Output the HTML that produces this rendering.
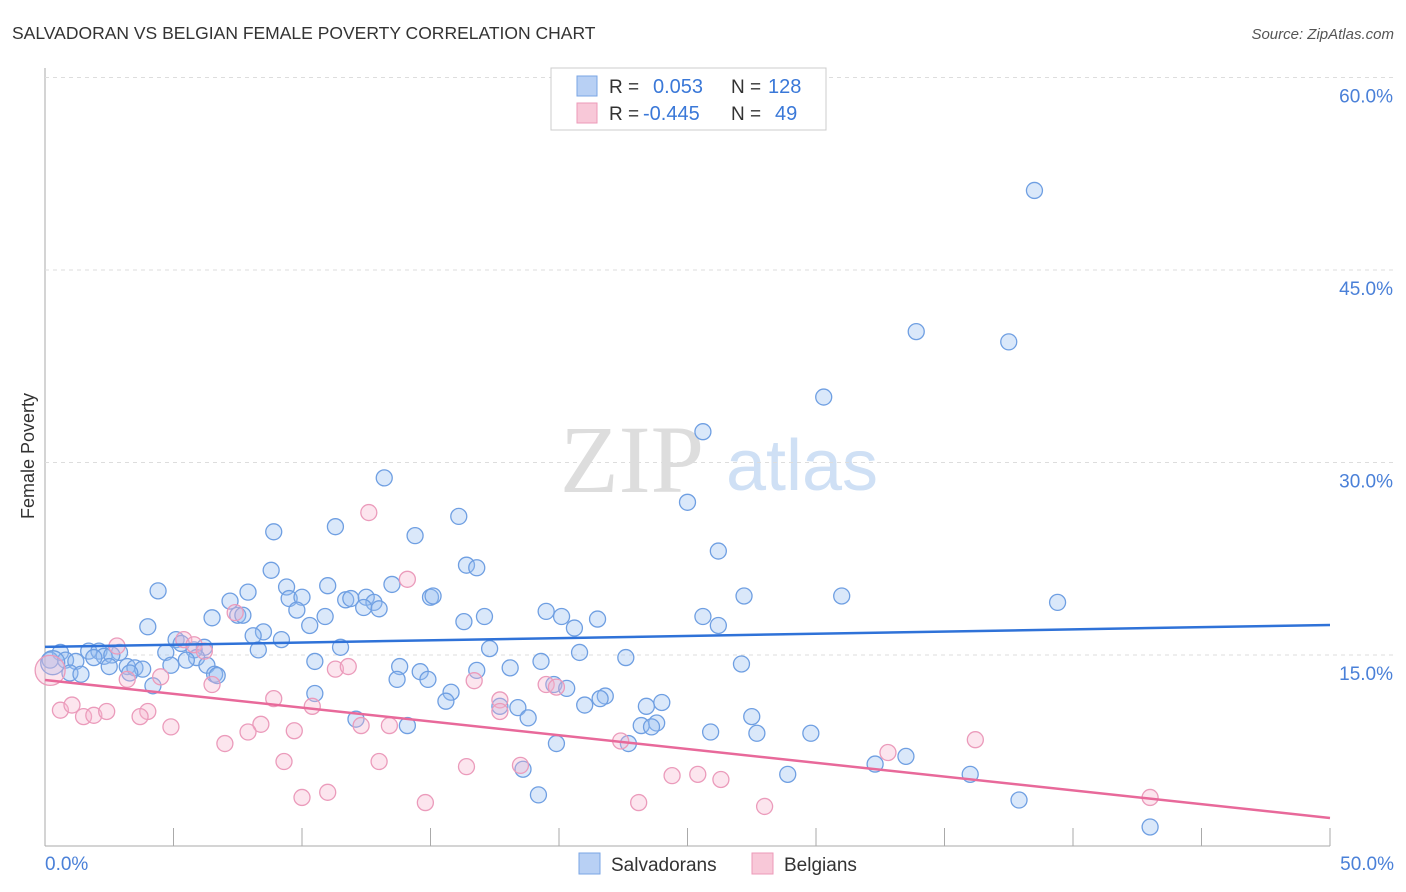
<!DOCTYPE html>
<html><head><meta charset="utf-8"><style>
body{margin:0;background:#fff;font-family:"Liberation Sans",sans-serif;}
svg{display:block}
</style></head><body>
<svg id="chart" width="1406" height="892">
<text x="12" y="39" font-size="17.5" fill="#333">SALVADORAN VS BELGIAN FEMALE POVERTY CORRELATION CHART</text>
<text x="1394" y="39" font-size="15" fill="#555" font-style="italic" text-anchor="end">Source: ZipAtlas.com</text>
<text transform="translate(34,456) rotate(-90)" font-size="18" fill="#333" text-anchor="middle">Female Poverty</text>
<g><text x="632" y="492" font-size="96" fill="#ddd" font-family="Liberation Serif,serif" text-anchor="middle">ZIP</text><text x="802" y="490" font-size="72" fill="#cfe0f5" text-anchor="middle">atlas</text></g>
<g id="grid"></g><g id="pts"></g><g id="lines"></g>
<g>
<rect x="551" y="68" width="275" height="62" fill="#fff" stroke="#ccc"/>
<rect x="577" y="76" width="20" height="20" fill="#b8d0f4" stroke="#7aa6e4"/>
<rect x="577" y="103" width="20" height="20" fill="#f8c8d8" stroke="#ec9ab8"/>
<text x="609" y="93" font-size="19" fill="#333">R = </text><text x="653" y="93" font-size="20" fill="#3a78d8">0.053</text>
<text x="731" y="93" font-size="19" fill="#333">N = </text><text x="768" y="93" font-size="20" fill="#3a78d8">128</text>
<text x="609" y="120" font-size="19" fill="#333">R = </text><text x="643" y="120" font-size="20" fill="#3a78d8">-0.445</text>
<text x="731" y="120" font-size="19" fill="#333">N = </text><text x="775" y="120" font-size="20" fill="#3a78d8">49</text>
</g>
<g>
<rect x="579" y="853" width="21" height="21" fill="#b8d0f4" stroke="#7aa6e4"/>
<text x="611" y="871" font-size="19" fill="#333">Salvadorans</text>
<rect x="752" y="853" width="21" height="21" fill="#f8c8d8" stroke="#ec9ab8"/>
<text x="784" y="871" font-size="19" fill="#333">Belgians</text>
</g>
</svg>
<script>
const xTicks=[0,5,10,15,20,25,30,35,40,45,50];
const yTicks=[15,30,45,60];
const blueX=[38.5,33.9,37.5,30.3,25.6,13.2,25.0,16.1,8.9,11.3,14.4,26.2,16.4,16.8,8.8,4.4,9.4,11.0,13.5,7.9,7.2,9.5,10.0,11.7,11.9,12.5,12.8,12.4,13.0,15.0,15.1,27.2,31.0,39.4,9.8,10.9,7.5,6.5,7.7,17.1,19.5,20.1,21.5,25.6,16.3,10.3,4.0,20.6,26.2,8.5,8.1,9.2,5.1,5.3,6.2,11.5,17.3,8.3,20.8,0.6,1.7,2.1,2.9,2.3,2.6,4.7,5.8,5.9,22.6,0.2,0.8,1.2,1.9,5.5,10.5,19.3,2.5,3.2,3.5,3.8,4.9,6.3,13.8,18.1,27.1,0.97,1.4,3.3,6.6,6.7,14.6,16.8,13.7,14.9,4.2,19.8,20.3,10.5,15.8,15.6,21.8,21.6,24.0,21.0,23.4,17.7,18.4,18.8,12.1,27.5,23.2,23.8,23.6,14.1,25.9,27.7,29.8,19.9,22.7,32.3,33.5,18.6,28.9,36.0,19.2,37.9,43.0,0.3];
const blueY=[51.2,40.2,39.4,35.1,32.4,28.8,26.9,25.8,24.6,25.0,24.3,23.1,22.0,21.8,21.6,20.0,20.3,20.4,20.5,19.9,19.2,19.4,19.5,19.3,19.4,19.5,19.1,18.7,18.6,19.5,19.6,19.6,19.6,19.1,18.5,18.0,18.1,17.9,18.1,18.0,18.4,18.0,17.8,18.0,17.6,17.3,17.2,17.1,17.3,16.8,16.5,16.2,16.2,15.9,15.6,15.6,15.5,15.4,15.2,15.2,15.3,15.3,15.2,14.9,15.0,15.2,15.4,14.8,14.8,14.6,14.6,14.5,14.8,14.6,14.5,14.5,14.1,14.1,14.0,13.9,14.2,14.2,14.1,14.0,14.3,13.6,13.5,13.6,13.5,13.4,13.7,13.8,13.1,13.1,12.6,12.7,12.4,12.0,12.1,11.4,11.8,11.6,11.3,11.1,11.0,11.0,10.9,10.1,10.0,10.2,9.5,9.7,9.4,9.5,9.0,8.9,8.9,8.1,8.1,6.5,7.1,6.1,5.7,5.7,4.1,3.7,1.6,14.4];
const pinkX=[12.6,14.1,7.4,2.8,5.4,5.8,6.2,11.3,11.8,16.7,3.2,4.5,6.5,19.5,19.9,8.9,17.7,17.7,0.6,1.05,1.5,1.9,2.4,4.0,3.7,10.4,8.4,7.9,9.7,12.3,13.4,4.9,7.0,22.4,36.2,32.8,9.3,13.0,16.4,18.5,24.4,25.4,26.3,10.0,11.0,14.8,23.1,28.0,43.0,0.2];
const pinkY=[26.1,20.9,18.3,15.7,16.2,15.8,15.3,13.9,14.1,13.0,13.1,13.3,12.7,12.7,12.5,11.6,11.5,10.6,10.7,11.1,10.2,10.3,10.6,10.6,10.2,11.0,9.6,9.0,9.1,9.5,9.5,9.4,8.1,8.3,8.4,7.4,6.7,6.7,6.3,6.4,5.6,5.7,5.3,3.9,4.3,3.5,3.5,3.2,3.9,13.8];
const blueLine=[15.63,17.34];
const pinkLine=[13.05,2.3];
const X0=45,X1=1330,Y0=847.5,PPY=12.833;
const sx=v=>X0+(X1-X0)*v/50, sy=v=>Y0-v*PPY;
const NS="http://www.w3.org/2000/svg";
function mk(tag,attrs,parent){const e=document.createElementNS(NS,tag);for(const k in attrs)e.setAttribute(k,attrs[k]);parent.appendChild(e);return e;}
const grid=document.getElementById('grid');
const ax=mk('line',{x1:45,y1:68,x2:45,y2:846,stroke:'#aaa'},grid);


const bx=mk('line',{x1:45,y1:846,x2:1330,y2:846,stroke:'#aaa'},grid);


yTicks.forEach(t=>{
 const l=mk('line',{x1:45,x2:1394,y1:sy(t),y2:sy(t),stroke:'#ddd','stroke-dasharray':'4,4'},grid);
 
 
 const tx=mk('text',{x:1393,y:sy(t)+25,'font-size':19,fill:'#4a80d8','text-anchor':'end'},grid);
 tx.textContent=t.toFixed(1)+'%';
 
 
});
xTicks.forEach(t=>{
 const l=mk('line',{x1:sx(t),x2:sx(t),y1:828,y2:846,stroke:'#aaa'},grid);
 
 
});
[[0,'start',45],[50,'end',1394]].forEach(([t,a,x])=>{
 const tx=mk('text',{x:x,y:870,'font-size':19,fill:'#4a80d8','text-anchor':a},grid);
 tx.textContent=t.toFixed(1)+'%';
 
 
});
const pts=document.getElementById('pts');
blueX.forEach((v,i)=>{
 const big=i===blueX.length-1;
 const c=mk('circle',{cx:sx(v),cy:sy(blueY[i]),r:big?12:8,fill:'rgba(150,190,240,0.35)',stroke:'#6f9fe2','stroke-width':1.3},pts);
 
 
});
pinkX.forEach((v,i)=>{
 const big=i===pinkX.length-1;
 const c=mk('circle',{cx:sx(v),cy:sy(pinkY[i]),r:big?15:8,fill:'rgba(245,180,205,0.35)',stroke:'#eb9bbb','stroke-width':1.3},pts);
 
 
});
const lines=document.getElementById('lines');
const bl=mk('line',{x1:sx(0),y1:sy(blueLine[0]),x2:sx(50),y2:sy(blueLine[1]),stroke:'#2f72d8','stroke-width':2.5},lines);


const pl=mk('line',{x1:sx(0),y1:sy(pinkLine[0]),x2:sx(50),y2:sy(pinkLine[1]),stroke:'#e8699a','stroke-width':2.5},lines);


</script>
</body></html>
